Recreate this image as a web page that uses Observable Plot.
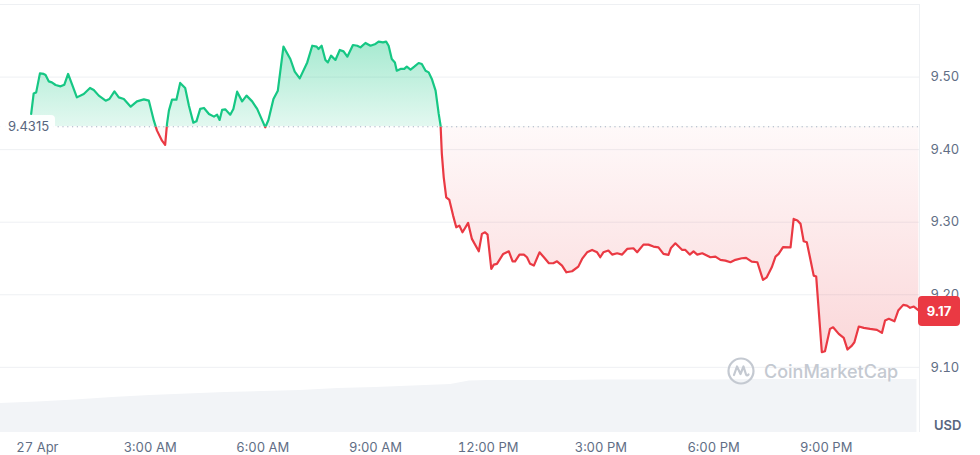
<!DOCTYPE html>
<html><head><meta charset="utf-8">
<script src="https://cdn.jsdelivr.net/npm/d3@7"></script>
<script src="https://cdn.jsdelivr.net/npm/@observablehq/plot@0.6"></script>
<style>
html,body{margin:0;padding:0;background:#fff;font-family:Inter,"Noto Sans",sans-serif;}
#wrap{position:relative;width:980px;height:455px;overflow:hidden;background:#fff}
#wrap > svg{position:absolute;left:0;top:0}
.ov{position:absolute;font-family:Inter,sans-serif}
</style></head><body><div id="wrap"></div>
<script>
// ---- data (minutes from 27 Apr 00:00, USD price) ----
const minutes = [-10,-6,-2,4,10,13,18,23,29,37,43,49,55,63,74,84,90,98,109,115,123,130,138,149,159,170,178,186,191,199,204,207,210,215,222,228,236,242,249,254,260,266,274,282,287,291,295,300,308,313,319,327,334,343,351,364,369,377,384,393,404,411,419,431,439,446,449,454,460,464,469,476,483,489,495,504,511,516,524,532,540,545,552,557,561,566,571,574,580,586,590,596,602,609,614,620,625,630,636,641,644,646,649,653,658,664,669,674,679,688,694,705,710,715,719,725,729,734,744,753,759,763,770,777,782,787,793,802,809,817,824,830,838,845,854,864,870,878,886,894,899,904,912,918,926,934,942,952,958,968,976,984,992,1000,1008,1012,1019,1030,1035,1042,1048,1054,1062,1075,1083,1091,1099,1107,1115,1125,1132,1141,1150,1159,1165,1173,1179,1184,1191,1203,1208,1214,1219,1224,1229,1234,1240,1244,1253,1258,1266,1271,1280,1288,1294,1301,1305,1312,1320,1330,1341,1349,1354,1360,1369,1375,1383,1389,1394,1400,1408];
const prices = [9.4492,9.4775,9.4789,9.5051,9.5043,9.5029,9.4941,9.4927,9.4891,9.4872,9.4895,9.5043,9.4905,9.4720,9.4767,9.4850,9.4822,9.4744,9.4675,9.4698,9.4803,9.4720,9.4698,9.4592,9.4665,9.4693,9.4675,9.4399,9.4262,9.4124,9.4065,9.4354,9.4537,9.4689,9.4689,9.4919,9.4850,9.4606,9.4372,9.4390,9.4561,9.4574,9.4492,9.4455,9.4482,9.4409,9.4547,9.4555,9.4482,9.4561,9.4799,9.4665,9.4744,9.4665,9.4561,9.4307,9.4409,9.4698,9.4813,9.5419,9.5249,9.5074,9.4982,9.5202,9.5432,9.5419,9.5387,9.5432,9.5236,9.5202,9.5295,9.5236,9.5373,9.5354,9.5281,9.5442,9.5432,9.5409,9.5470,9.5432,9.5456,9.5488,9.5478,9.5488,9.5432,9.5249,9.5202,9.5088,9.5112,9.5112,9.5143,9.5102,9.5143,9.5194,9.5180,9.5088,9.5065,9.4974,9.4813,9.4492,9.4331,9.3941,9.3618,9.3343,9.3307,9.3091,9.2930,9.2953,9.2861,9.2990,9.2770,9.2599,9.2839,9.2861,9.2829,9.2357,9.2416,9.2426,9.2563,9.2599,9.2461,9.2461,9.2554,9.2554,9.2517,9.2426,9.2402,9.2585,9.2517,9.2434,9.2434,9.2461,9.2402,9.2310,9.2324,9.2388,9.2494,9.2585,9.2618,9.2585,9.2517,9.2585,9.2609,9.2554,9.2572,9.2554,9.2632,9.2641,9.2585,9.2691,9.2691,9.2664,9.2654,9.2563,9.2550,9.2646,9.2709,9.2618,9.2618,9.2554,9.2599,9.2554,9.2572,9.2517,9.2526,9.2481,9.2471,9.2448,9.2481,9.2503,9.2508,9.2457,9.2448,9.2205,9.2241,9.2379,9.2526,9.2563,9.2657,9.2654,9.3045,9.3022,9.2977,9.2737,9.2723,9.2517,9.2264,9.2251,9.1208,9.1222,9.1530,9.1552,9.1461,9.1406,9.1245,9.1300,9.1346,9.1562,9.1544,9.1530,9.1517,9.1475,9.1645,9.1668,9.1635,9.1782,9.1861,9.1851,9.1820,9.1838,9.1782];
const openPrice = 9.4315;
const openPriceLabel = "9.4315";
const lastPriceLabel = "9.17";
const volMinutes = [-60,0,60,120,180,240,300,360,420,480,540,600,660,690,720,780,840,900,960,1020,1080,1140,1200,1260,1320,1380,1405];
const volumes =    [29,30.5,32.5,35,37,38.5,40,41,42,44,45,46.5,48,51.5,52,52,52,52.5,52.5,52.5,52.5,53,53,53,53,53,53];
const xTickMinutes = [0,180,360,540,720,900,1080,1260];
const xTickLabels = ["27 Apr","3:00 AM","6:00 AM","9:00 AM","12:00 PM","3:00 PM","6:00 PM","9:00 PM"];
const yTicks = [9.1,9.2,9.3,9.4,9.5];
const yGrid = [9.1,9.2,9.3,9.4,9.5,9.6];
const currency = "USD";
const brand = "CoinMarketCap";

const green = "#16c784", red = "#ea3943";
const data = minutes.map((m,i)=>({m, p: prices[i]}));
const vol = volMinutes.map((m,i)=>({m, v: volumes[i]}));
const xDomain = [-59, 1409];
const common = {width:980, height:455, marginLeft:0, marginRight:61, marginBottom:23};

const wrap = document.getElementById("wrap");

const volPlot = Plot.plot({
  ...common, marginTop:372,
  style:{background:"transparent"},
  x:{domain:xDomain, axis:null},
  y:{domain:[0,60], axis:null},
  marks:[Plot.areaY(vol,{x:"m", y:"v", fill:"#f2f4f7"})]
});
wrap.appendChild(volPlot);

const pricePlot = Plot.plot({
  ...common, marginTop:4,
  style:{background:"transparent", fontFamily:"Inter, sans-serif", fontSize:"13px", color:"#616e85"},
  x:{domain:xDomain, ticks:xTickMinutes, tickFormat:d=>xTickLabels[xTickMinutes.indexOf(d)], tickSize:0, tickPadding:10, label:null},
  y:{domain:[9.0102,9.6], axis:"right", ticks:yTicks, tickFormat:d=>d.toFixed(2), tickSize:0, tickPadding:11, label:null},
  marks:[
    Plot.ruleY(yGrid,{stroke:"#eef0f3", strokeWidth:1}),
    Plot.ruleX([xDomain[1]],{stroke:"#eef0f3", strokeWidth:1}),
    Plot.areaY(data,{x:"m", y1:openPrice, y2:"p", fill:"url(#gGreen)"}),
    Plot.areaY(data,{x:"m", y1:openPrice, y2:"p", fill:"url(#gRed)"}),
    Plot.ruleY([openPrice],{stroke:"#a6b0c3", strokeWidth:1, strokeDasharray:"1.2 3.6"}),
    Plot.lineY(data,{x:"m", y:"p", stroke:green, strokeWidth:2.2}),
    Plot.lineY(data,{x:"m", y:"p", stroke:red, strokeWidth:2.2})
  ]
});
wrap.appendChild(pricePlot);

// clip the green (above open) and red (below open) parts
const baseY = pricePlot.scale("y").apply(openPrice);
const topY = pricePlot.scale("y").apply(d3.max(prices));
const lowY = pricePlot.scale("y").apply(d3.min(prices));
const svg = d3.select(pricePlot);
const defs = svg.insert("defs", ":first-child");
defs.append("clipPath").attr("id","cAbove").append("rect").attr("x",0).attr("y",0).attr("width",980).attr("height",baseY);
defs.append("clipPath").attr("id","cBelow").append("rect").attr("x",0).attr("y",baseY).attr("width",980).attr("height",455-baseY);
const gg = defs.append("linearGradient").attr("id","gGreen").attr("gradientUnits","userSpaceOnUse").attr("x1",0).attr("x2",0).attr("y1",topY).attr("y2",baseY);
gg.append("stop").attr("offset",0).attr("stop-color",green).attr("stop-opacity",0.38);
gg.append("stop").attr("offset",1).attr("stop-color",green).attr("stop-opacity",0.12);
const gr = defs.append("linearGradient").attr("id","gRed").attr("gradientUnits","userSpaceOnUse").attr("x1",0).attr("x2",0).attr("y1",baseY).attr("y2",lowY);
gr.append("stop").attr("offset",0).attr("stop-color",red).attr("stop-opacity",0.03);
gr.append("stop").attr("offset",1).attr("stop-color",red).attr("stop-opacity",0.2);
const areas = pricePlot.querySelectorAll('g[aria-label="area"]');
const lines = pricePlot.querySelectorAll('g[aria-label="line"]');
areas[0].setAttribute("clip-path","url(#cAbove)");
areas[1].setAttribute("clip-path","url(#cBelow)");
lines[0].setAttribute("clip-path","url(#cAbove)");
lines[1].setAttribute("clip-path","url(#cBelow)");

// overlays: open price tag, last price tag, currency, watermark
const lastY = pricePlot.scale("y").apply(prices[prices.length-1]);
const o1 = document.createElement("div");
o1.className="ov";
o1.style.cssText=`left:0;top:${baseY-11}px;height:22px;line-height:22px;padding:0 6px 0 8px;background:rgba(255,255,255,0.92);border-radius:4px;font-size:13px;color:#58667e`;
o1.textContent=openPriceLabel;
wrap.appendChild(o1);

const o2 = document.createElement("div");
o2.className="ov";
o2.style.cssText=`left:918px;top:${lastY-14}px;width:42px;height:30px;line-height:30px;text-align:center;background:${red};border-radius:4px;font-size:13px;font-weight:700;color:#fff`;
o2.textContent=lastPriceLabel;
wrap.appendChild(o2);

const o3 = document.createElement("div");
o3.className="ov";
o3.style.cssText=`left:934px;top:417px;font-size:13px;font-weight:600;color:#58667e`;
o3.textContent=currency;
wrap.appendChild(o3);

const o4 = document.createElement("div");
o4.className="ov";
o4.style.cssText=`left:726px;top:356px;display:flex;align-items:center;gap:8px;color:#c4c9d1;font-size:18px;font-weight:500`;
o4.innerHTML=`<svg width="30" height="30" viewBox="0 0 30 30"><circle cx="15" cy="15" r="12.5" fill="none" stroke="#c4c9d1" stroke-width="2.2"/><path d="M8 19 L11 10.5 L14.5 18 L17.5 10.5 L20 18.5 Q21 20.5 22.5 18.5" fill="none" stroke="#c4c9d1" stroke-width="2.2" stroke-linejoin="round" stroke-linecap="round"/></svg><span>${brand}</span>`;
wrap.appendChild(o4);
</script>
</body></html>
